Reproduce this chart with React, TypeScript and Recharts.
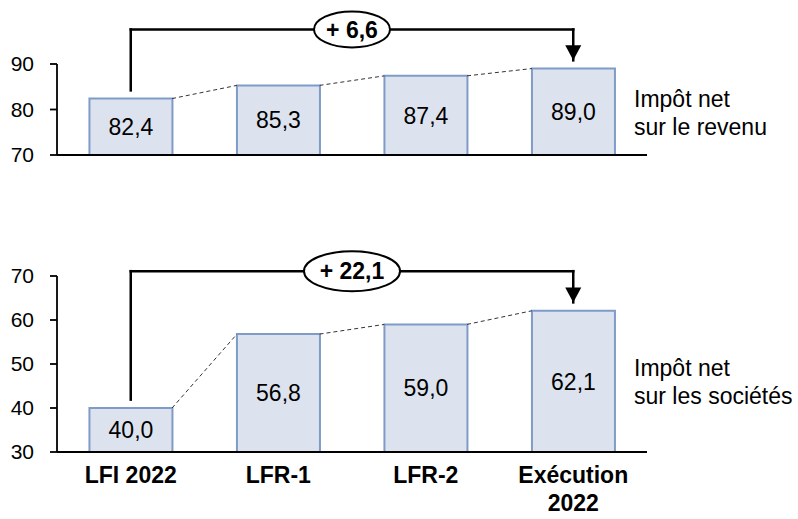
import React from 'react';
import { BarChart, Bar, XAxis, YAxis, ReferenceLine, ReferenceDot, LabelList } from 'recharts';

const categoryLines = [['LFI 2022'], ['LFR-1'], ['LFR-2'], ['Exécution', '2022']];
const categories = categoryLines.map((l) => l.join(' '));

const irValues = [82.4, 85.3, 87.4, 89.0];
const irTicks = [70, 80, 90];
const irTitle = ['Impôt net', 'sur le revenu'];

const isValues = [40.0, 56.8, 59.0, 62.1];
const isTicks = [30, 40, 50, 60, 70];
const isTitle = ['Impôt net', 'sur les sociétés'];

const FONT = '"Liberation Sans", Arial, sans-serif';
const BAR_FILL = '#dde3ee';
const BAR_STROKE = '#7f9bc8';
const BAR_GAP = 0.22; // barCategoryGap as a fraction of the band
const HALF_BAR = 0.5 - BAR_GAP;

const fmt = (v: number) => v.toFixed(1).replace('.', ',');

const ArrowHead = (props: any) => {
  const { cx, cy } = props;
  return <polygon points={`${cx - 8},${cy - 15} ${cx + 8},${cy - 15} ${cx},${cy}`} fill="#000" />;
};

const Pill = (props: any) => {
  const { cx, cy, rx, ry, text } = props;
  return (
    <g>
      <ellipse cx={cx} cy={cy} rx={rx} ry={ry} fill="#fff" stroke="#000" strokeWidth={2} />
      <text
        x={cx}
        y={cy}
        dy="0.36em"
        textAnchor="middle"
        fontFamily={FONT}
        fontWeight="bold"
        fontSize={23}
        fill="#000"
      >
        {text}
      </text>
    </g>
  );
};

const CategoryTick = (props: any) => {
  const { x, y, index } = props;
  const lines = categoryLines[index] || [props.payload.value];
  return (
    <g transform={`translate(${x},${y})`}>
      {lines.map((line, i) => (
        <text
          key={i}
          x={0}
          y={31 + i * 28}
          textAnchor="middle"
          fontFamily={FONT}
          fontWeight="bold"
          fontSize={23}
          fill="#000"
        >
          {line}
        </text>
      ))}
    </g>
  );
};

interface PanelProps {
  values: number[];
  ticks: number[];
  title: string[];
  top: number;
  height: number;
  marginTop: number;
  axisHeight: number;
  bracketLevel: number;
  gap: number;
  pillRx: number;
  pillRy: number;
  titleTop: number;
  showCategories: boolean;
}

const Panel: React.FC<PanelProps> = ({
  values, ticks, title, top, height, marginTop, axisHeight,
  bracketLevel, gap, pillRx, pillRy, titleTop, showCategories,
}) => {
  // pos = centre of each band on a hidden linear axis running 0..n
  const data = categories.map((name, i) => ({ name, value: values[i], pos: i + 0.5 }));
  const n = values.length;
  const last = n - 1;
  const delta = '+ ' + fmt(values[last] - values[0]);
  const lineStyle = { stroke: '#000', strokeWidth: 2.5, strokeLinecap: 'square' as const };

  return (
    <>
      <div style={{ position: 'absolute', left: 0, top }}>
        <BarChart
          width={798}
          height={height}
          data={data}
          margin={{ top: marginTop, right: 151, left: 0, bottom: 0 }}
          barCategoryGap={`${BAR_GAP * 100}%`}
        >
          <XAxis
            dataKey="name"
            height={axisHeight}
            axisLine={{ stroke: '#000', strokeWidth: 1.8 }}
            tickLine={false}
            tickSize={0}
            tickMargin={0}
            interval={0}
            tick={showCategories ? <CategoryTick /> : false}
          />
          <XAxis xAxisId="num" dataKey="pos" type="number" domain={[0, n]} allowDataOverflow hide />
          <YAxis
            width={57}
            domain={[ticks[0], ticks[ticks.length - 1]]}
            ticks={ticks}
            allowDataOverflow
            axisLine={{ stroke: '#000', strokeWidth: 1.8 }}
            tickLine={{ stroke: '#000', strokeWidth: 1.8 }}
            tickSize={7}
            tickMargin={16}
            tick={{ fill: '#000', fontSize: 21, fontFamily: FONT }}
          />
          <Bar
            dataKey="value"
            fill={BAR_FILL}
            stroke={BAR_STROKE}
            strokeWidth={2}
            isAnimationActive={false}
          >
            <LabelList
              dataKey="value"
              position="center"
              formatter={(v: any) => fmt(Number(v))}
              fill="#000"
              fontSize={23}
              fontFamily={FONT}
            />
          </Bar>
          {values.slice(0, last).map((v, i) => (
            <ReferenceLine
              key={`c-${i}`}
              xAxisId="num"
              ifOverflow="visible"
              segment={[
                { x: i + 0.5 + HALF_BAR, y: v },
                { x: i + 1.5 - HALF_BAR, y: values[i + 1] },
              ]}
              stroke="#333"
              strokeWidth={1}
              strokeDasharray="4 3"
            />
          ))}
          <ReferenceLine
            xAxisId="num"
            ifOverflow="visible"
            segment={[{ x: 0.5, y: values[0] + gap }, { x: 0.5, y: bracketLevel }]}
            {...lineStyle}
          />
          <ReferenceLine
            xAxisId="num"
            ifOverflow="visible"
            segment={[{ x: 0.5, y: bracketLevel }, { x: last + 0.5, y: bracketLevel }]}
            {...lineStyle}
          />
          <ReferenceLine
            xAxisId="num"
            ifOverflow="visible"
            segment={[{ x: last + 0.5, y: bracketLevel }, { x: last + 0.5, y: values[last] + gap }]}
            {...lineStyle}
          />
          <ReferenceDot
            xAxisId="num"
            x={last + 0.5}
            y={values[last] + gap}
            ifOverflow="visible"
            shape={(p: any) => <ArrowHead {...p} />}
          />
          <ReferenceDot
            xAxisId="num"
            x={n / 2}
            y={bracketLevel}
            ifOverflow="visible"
            isFront
            shape={(p: any) => <Pill {...p} rx={pillRx} ry={pillRy} text={delta} />}
          />
        </BarChart>
      </div>
      <div
        style={{
          position: 'absolute',
          left: 634,
          top: titleTop,
          fontFamily: FONT,
          fontSize: 23,
          lineHeight: '28px',
          color: '#000',
          whiteSpace: 'nowrap',
        }}
      >
        {title.map((t, i) => (
          <div key={i}>{t}</div>
        ))}
      </div>
    </>
  );
};

export default function App() {
  return (
    <div
      style={{
        position: 'absolute',
        left: 0,
        top: 0,
        width: 798,
        height: 519,
        background: '#fff',
        overflow: 'hidden',
        fontFamily: FONT,
      }}
    >
      <Panel
        values={irValues}
        ticks={irTicks}
        title={irTitle}
        top={0}
        height={170}
        marginTop={64}
        axisHeight={15}
        bracketLevel={97.6}
        gap={1.8}
        pillRx={38}
        pillRy={18}
        titleTop={85}
        showCategories={false}
      />
      <Panel
        values={isValues}
        ticks={isTicks}
        title={isTitle}
        top={180}
        height={339}
        marginTop={96}
        axisHeight={67}
        bracketLevel={71.1}
        gap={1.9}
        pillRx={48}
        pillRy={20}
        titleTop={354}
        showCategories
      />
    </div>
  );
}
